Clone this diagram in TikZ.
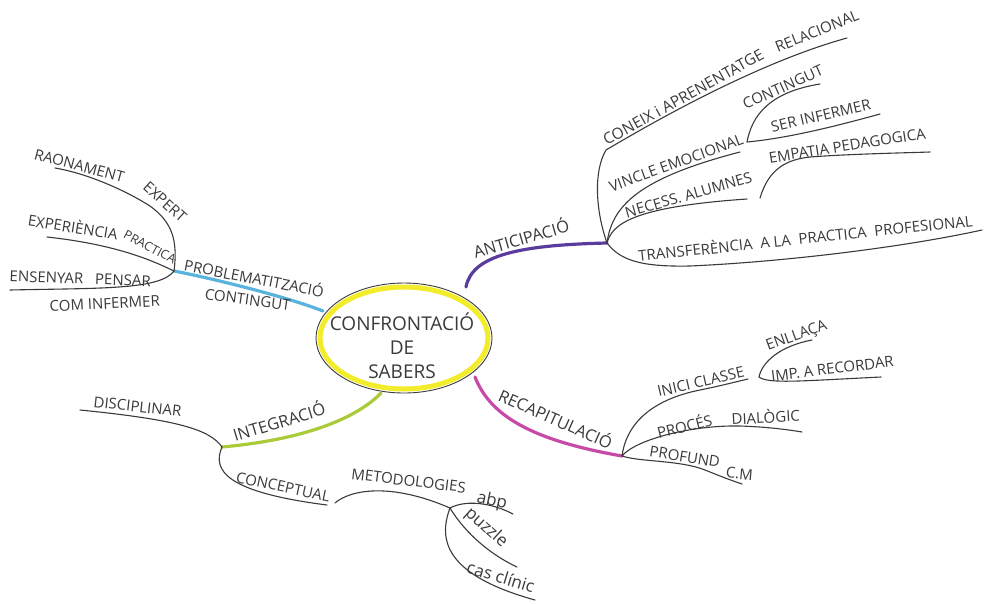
\documentclass[tikz,border=0pt]{standalone}
\usepackage{fontspec}
\setmainfont{Open Sans}
\usetikzlibrary{shapes.geometric}
\definecolor{ink}{HTML}{3A3A3A}
\definecolor{cblue}{HTML}{5AB2DE}
\definecolor{cpurple}{HTML}{5B3C9E}
\definecolor{cmag}{HTML}{C74AA6}
\definecolor{cgreen}{HTML}{A9CB3A}
\definecolor{cyel}{HTML}{F2EC2A}
\tikzset{
  lbl/.style={text=ink, inner sep=0pt, anchor=base, font=\fontsize{15}{17}\selectfont},
  lblb/.style={lbl, font=\fontsize{16.5}{18}\selectfont},
  lblm/.style={lbl, font=\fontsize{15.5}{17}\selectfont},
  lblt/.style={lbl, font=\fontsize{12.5}{14}\selectfont},
  lbls/.style={lbl, font=\fontsize{17}{19}\selectfont},
  big/.style={text=ink, inner sep=0pt, font=\fontsize{19}{24}\selectfont, align=center},
  twig/.style={draw=ink, line width=1.1pt, line cap=round},
  limb/.style={line width=3.2pt, line cap=round}
}
\begin{document}
\begin{tikzpicture}[x=1pt,y=-1pt]
\useasboundingbox (0,0) rectangle (985,603);

% centre
\draw[cyel, line width=5pt] (404,338) ellipse (84 and 51);
\draw[ink, line width=0.9pt] (404,338) ellipse (88 and 55);
\node[big] (c) at (402,346) {CONFRONTACIÓ\\DE\\SABERS};

% hubs and coordinates
\coordinate (sB) at (323,311);
\coordinate (pL) at (174,271);
\coordinate (eRa) at (55,168);
\coordinate (eEx) at (47,237);
\coordinate (eEn) at (10,290);

\coordinate (sP) at (466,287);
\coordinate (pA) at (607,243);
\coordinate (eCo) at (847,38);
\coordinate (eVi) at (740,152);
\coordinate (pV) at (747,142);
\coordinate (eCt) at (820,84);
\coordinate (eSe) at (880,114);
\coordinate (eNe) at (747,199);
\coordinate (pE1) at (760,198);
\coordinate (pE2) at (930,152);
\coordinate (eTr) at (982,230);

\coordinate (sM) at (475,377);
\coordinate (pR) at (622,456);
\coordinate (eIn) at (748,379);
\coordinate (pI) at (759,377);
\coordinate (eEnl) at (812,340);
\coordinate (eImp) at (881,377);
\coordinate (ePr) at (802,432);
\coordinate (ePf) at (742,484);

\coordinate (sG) at (381,393);
\coordinate (pG) at (222,447);
\coordinate (eDi) at (80,410);
\coordinate (eCc) at (327,505);
\coordinate (pM1) at (335,503);
\coordinate (pM) at (450,508);
\coordinate (eAb) at (513,514);
\coordinate (ePz) at (517,567);
\coordinate (eCa) at (535,600);

% ---------- coloured limbs
\draw[limb, cblue] (sB) .. controls (290,298) and (220,280) .. (pL);
\draw[limb, cpurple] (sP) .. controls (472,255) and (520,245) .. (pA);
\draw[limb, cmag] (sM) .. controls (490,415) and (530,440) .. (pR);
\draw[limb, cgreen] (sG) .. controls (355,420) and (300,440) .. (pG);

% ---------- left twigs
\draw[twig] (pL) .. controls (178,240) and (172,222) .. (150,206)
  .. controls (128,192) and (90,174) .. (eRa);
\draw[twig] (pL) .. controls (155,262) and (120,245) .. (eEx);
\draw[twig] (pL) .. controls (160,290) and (100,288) .. (eEn);

% ---------- top right twigs
\draw[twig] (pA) .. controls (596,212) and (593,172) .. (606,150)
  .. controls (660,118) and (760,62) .. (eCo);
\draw[twig] (pA) .. controls (612,205) and (640,178) .. (eVi);
\draw[twig] (pV) .. controls (752,115) and (770,92) .. (eCt);
\draw[twig] (pV) .. controls (790,138) and (840,125) .. (eSe);
\draw[twig] (pA) .. controls (612,225) and (630,207) .. (eNe);
\draw[twig] (pE1) .. controls (767,175) and (780,160) .. (810,157)
  .. controls (850,154) and (900,153) .. (pE2);
\draw[twig] (pA) .. controls (620,260) and (640,267) .. (690,266)
  .. controls (780,262) and (900,248) .. (eTr);

% ---------- bottom right twigs
\draw[twig] (pR) .. controls (626,425) and (650,400) .. (700,390)
  .. controls (720,386) and (735,382) .. (eIn);
\draw[twig] (pI) .. controls (762,362) and (780,346) .. (eEnl);
\draw[twig] (pI) .. controls (768,384) and (800,381) .. (eImp);
\draw[twig] (pR) .. controls (635,440) and (690,425) .. (740,426)
  .. controls (770,427) and (790,430) .. (ePr);
\draw[twig] (pR) .. controls (640,462) and (680,460) .. (705,470)
  .. controls (720,476) and (730,480) .. (ePf);

% ---------- bottom left twigs
\draw[twig] (pG) .. controls (210,430) and (180,420) .. (eDi);
\draw[twig] (pG) .. controls (212,470) and (225,492) .. (eCc);
\draw[twig] (pM1) .. controls (350,490) and (390,482) .. (pM);
\draw[twig] (pM) .. controls (465,500) and (490,502) .. (eAb);
\draw[twig] (pM) .. controls (462,528) and (485,552) .. (ePz);
\draw[twig] (pM) .. controls (438,540) and (445,575) .. (eCa);

% ---------- labels: left
\node[lbl, rotate=-11] (tPro) at (253,284) {PROBLEMATITZACIÓ};
\node[lbl, rotate=-8] (tCon) at (247,305) {CONTINGUT};
\node[lbl, rotate=-15] (tRa) at (78,171) {RAONAMENT};
\node[lbl, rotate=-42, anchor=center] (tEp) at (165,202) {EXPERT};
\node[lbl, rotate=-9] (tExp) at (72,233) {EXPERIÈNCIA};
\node[lblt, rotate=-28, anchor=center] (tPrc) at (150,247) {PRACTICA};
\node[lbl, rotate=-2] (tEns) at (80,284) {ENSENYAR\ \ \ PENSAR};
\node[lbl, rotate=3] (tCom) at (105,309) {COM INFERMER};

% ---------- labels: top right
\node[lblb, rotate=16] (tAnt) at (523,245) {ANTICIPACIÓ};
\node[lblm, rotate=29] (tCoA) at (686,102) {CONEIX i APRENENTATGE};
\node[lbl, rotate=22] (tRel) at (819,36) {RELACIONAL};
\node[lbl, rotate=20] (tVi) at (678,168) {VINCLE EMOCIONAL};
\node[lbl, rotate=24] (tCt) at (785,92) {CONTINGUT};
\node[lbl, rotate=13] (tSe) at (822,121) {SER INFERMER};
\node[lbl, rotate=16] (tNe) at (690,200) {NECESS. ALUMNES};
\node[lbl, rotate=9] (tEm) at (848,151) {EMPATIA PEDAGOGICA};
\node[lbl, rotate=6] (tTr) at (806,244)
  {TRANSFERÈNCIA\ \ A LA\ \ PRACTICA\ \ PROFESIONAL};

% ---------- labels: bottom right
\node[lblb, rotate=-24] (tRec) at (553,425) {RECAPITULACIÓ};
\node[lbl, rotate=13] (tIn) at (702,387) {INICI CLASSE};
\node[lbl, rotate=20] (tEnl) at (798,340) {ENLLAÇA};
\node[lbl, rotate=7] (tImp) at (833,374) {IMP. A RECORDAR};
\node[lbl, rotate=14] (tPcs) at (686,432) {PROCÉS};
\node[lbl, rotate=3] (tDia) at (766,423) {DIALÒGIC};
\node[lbl, rotate=-9] (tPf) at (684,462) {PROFUND};
\node[lbl, rotate=-5] (tCM) at (739,479) {C.M};

% ---------- labels: bottom left
\node[lblb, rotate=17] (tInt) at (281,428) {INTEGRACIÓ};
\node[lbl, rotate=-6] (tDi) at (137,412) {DISCIPLINAR};
\node[lbl, rotate=-12] (tCc) at (282,492) {CONCEPTUAL};
\node[lbl, rotate=-7] (tMet) at (408,486) {METODOLOGIES};
\node[lbls, rotate=-12] (tAb) at (491,506) {abp};
\node[lbls, rotate=-42, anchor=center] (tPz) at (486,528) {puzzle};
\node[lbls, rotate=-17] (tCa) at (499,583) {cas clínic};
\end{tikzpicture}
\end{document}
